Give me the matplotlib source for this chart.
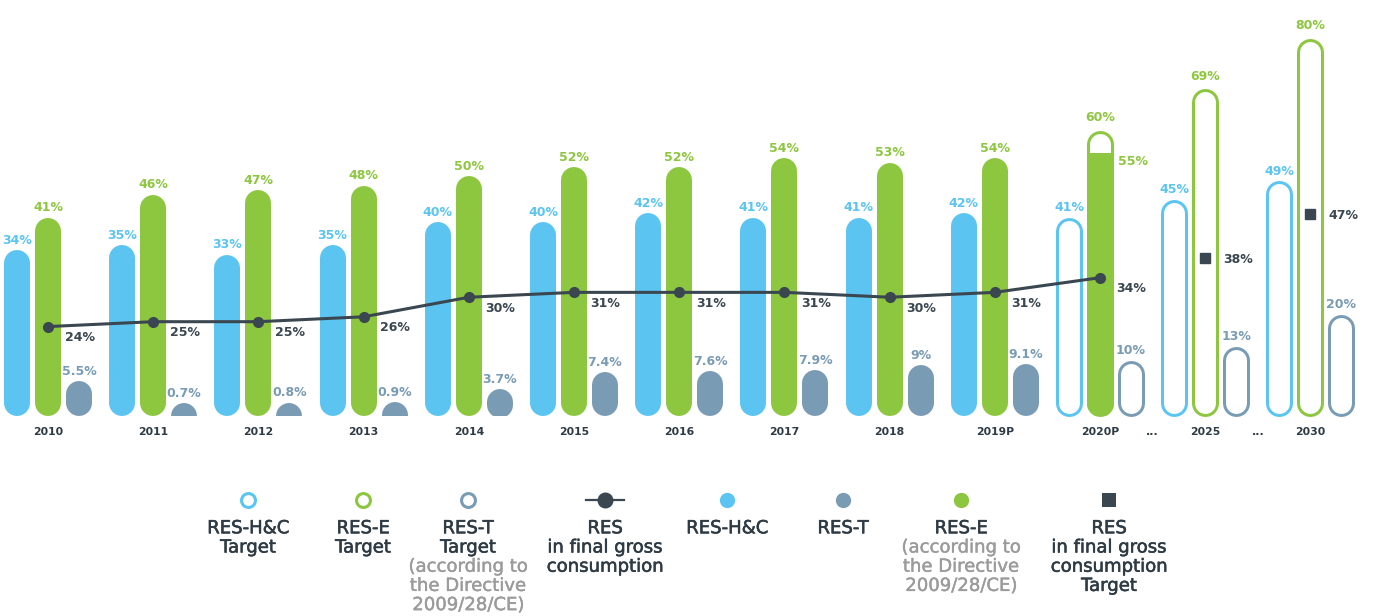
"""
plot.py - RES shares by sector 2010-2030 (bars as rounded pills + RES line)
"""

import matplotlib.pyplot as plt
import matplotlib.patheffects as pe
from matplotlib.patches import Rectangle
from matplotlib.lines import Line2D

# --- data -----------------------------------------------------------------
years = ["2010", "2011", "2012", "2013", "2014", "2015", "2016", "2017",
         "2018", "2019P", "2020P", "2025", "2030"]

# actual values 2010 -> 2019P
res_hc = [34, 35, 33, 35, 40, 40, 42, 41, 41, 42]
res_t = [5.5, 0.7, 0.8, 0.9, 3.7, 7.4, 7.6, 7.9, 9, 9.1]
# RES-E actual 2010 -> 2020P
res_e = [41, 46, 47, 48, 50, 52, 52, 54, 53, 54, 55]
# RES in final gross consumption 2010 -> 2020P
res_total = [24, 25, 25, 26, 30, 31, 31, 31, 30, 31, 34]

# targets 2020P, 2025, 2030
hc_target = [41, 45, 49]
e_target = [60, 69, 80]
t_target = [10, 13, 20]
# RES target 2025, 2030
res_target = [38, 47]

# --- colours / layout -----------------------------------------------------
BLUE = "#5BC4F1"
GREEN = "#8DC63F"
GREY = "#7A9BB4"
DARK = "#3A4750"
TEXT = "#2E3B45"
SOFT = "#9B9B9B"

W, H = 1379, 616
PX_X = 105.2          # pixels per group
X0 = 48               # pixel of first group centre
PX_Y = 4.6            # pixels per % (bars)
BASE = -2.1           # bar baseline value
BASE_PX = 416         # baseline pixel from top
OFF = 31 / PX_X       # side bar offset in group units
BAR_W = 26            # px
TGT_W = 27            # px
EDGE = 3              # px outline

fig = plt.figure(figsize=(W / 100, H / 100), dpi=100)
ax = fig.add_axes([0, 0, 1, 1])
ax.set_xlim(-X0 / PX_X, (W - X0) / PX_X)
ax.set_ylim(BASE - (H - BASE_PX) / PX_Y, BASE + BASE_PX / PX_Y)
ax.axis("off")

# line series on its own scale
ax2 = ax.twinx()
ax2.set_ylim(-35.2, 90.8)
ax2.axis("off")


def pill(x, top, color, width=BAR_W, clip_top=None, zorder=2):
    r = width / 2 / PX_Y
    y1 = top - r
    y0 = min(BASE + r, y1 - 0.5)
    ln, = ax.plot([x, x], [y0, y1], color=color, lw=width * 0.72,
                  solid_capstyle="round", zorder=zorder)
    hi = clip_top if clip_top is not None else 200
    clip = Rectangle((x - 1, BASE), 2, hi - BASE, transform=ax.transData)
    ln.set_clip_path(clip)


def outline_pill(x, top, color):
    r = TGT_W / 2 / PX_Y
    y1 = top - r
    y0 = BASE + r
    ax.plot([x, x], [y0, y1], color=color, lw=TGT_W * 0.72,
            solid_capstyle="round", zorder=2)
    ax.plot([x, x], [y0, y1], color="white", lw=(TGT_W - 2 * EDGE) * 0.72,
            solid_capstyle="round", zorder=3)


def bar_label(x, top, val, color, dy=4.5):
    ax.annotate(f"{val:g}%", (x, top), xytext=(0, dy), textcoords="offset points",
                ha="center", va="baseline", color=color, fontsize=9,
                fontweight="bold", zorder=8)


# actual bars
for i, (hc, t) in enumerate(zip(res_hc, res_t)):
    pill(i - OFF, hc, BLUE)
    bar_label(i - OFF, hc, hc, BLUE)
    pill(i + OFF, t, GREY)
    bar_label(i + OFF, t, t, GREY)

for i, e in enumerate(res_e[:10]):
    pill(i, e, GREEN)
    bar_label(i, e, e, GREEN)

# target bars
for k, (hc, e, t) in enumerate(zip(hc_target, e_target, t_target)):
    i = 10 + k
    outline_pill(i - OFF, hc, BLUE)
    bar_label(i - OFF, hc, hc, BLUE)
    outline_pill(i, e, GREEN)
    bar_label(i, e, e, GREEN, dy=6.5)
    outline_pill(i + OFF, t, GREY)
    bar_label(i + OFF, t, t, GREY)

# 2020P RES-E actual fill inside the target outline
pill(10, e_target[0], GREEN, width=TGT_W, clip_top=res_e[10], zorder=4)
ax.annotate(f"{res_e[10]}%", (10, res_e[10]), xytext=(13, -6),
            textcoords="offset points", ha="left", va="center", color=GREEN,
            fontsize=9, fontweight="bold")

# RES line
xs = list(range(len(res_total)))
ax2.plot(xs, res_total, color=DARK, lw=2.2, marker="o", ms=7, zorder=6)
for x, v in zip(xs, res_total):
    ax2.annotate(f"{v}%", (x, v), xytext=(12, -8), textcoords="offset points",
                 ha="left", va="center", color=DARK, fontsize=9, fontweight="bold")

# RES target squares
xt = [11, 12]
ax2.plot(xt, res_target, linestyle="none", marker="s", ms=7.5, color=DARK, zorder=6)
for x, v in zip(xt, res_target):
    ax2.annotate(f"{v}%", (x, v), xytext=(13, -1), textcoords="offset points",
                 ha="left", va="center", color=DARK, fontsize=9, fontweight="bold")

# year labels
ytr = ax.get_xaxis_transform()
yl = 1 - 432 / H
for i, yr in enumerate(years):
    ax.text(i, yl, yr, transform=ytr, ha="center", va="center", fontsize=7.8,
            fontweight="bold", color=TEXT)
for i in (10.5, 11.5):
    ax.text(i, yl, "...", transform=ytr, ha="center", va="center", fontsize=7.8,
            fontweight="bold", color=TEXT)

# --- legend ---------------------------------------------------------------
bold = [pe.withStroke(linewidth=0.4, foreground=TEXT)]
soft = [pe.withStroke(linewidth=0.3, foreground=SOFT)]
directive = ["(according to", "the Directive", "2009/28/CE)"]
legend_items = [
    (248, "hollow", BLUE, ["RES-H&C", "Target"], []),
    (363, "hollow", GREEN, ["RES-E", "Target"], []),
    (468, "hollow", GREY, ["RES-T", "Target"], directive),
    (605, "line", DARK, ["RES", "in final gross", "consumption"], []),
    (727, "dot", BLUE, ["RES-H&C"], []),
    (843, "dot", GREY, ["RES-T"], []),
    (961, "dot", GREEN, ["RES-E"], directive),
    (1109, "square", DARK, ["RES", "in final gross", "consumption", "Target"], []),
]


def fx(px):
    return px / W


def fy(py):
    return 1 - py / H


MY = 500
for cx, kind, col, dark_lines, gray_lines in legend_items:
    if kind == "hollow":
        fig.add_artist(Line2D([fx(cx)], [fy(MY)], marker="o", ms=10, mfc="white",
                              mec=col, mew=2.2, transform=fig.transFigure))
    elif kind == "dot":
        fig.add_artist(Line2D([fx(cx)], [fy(MY)], marker="o", ms=11, mfc=col,
                              mec=col, mew=0, transform=fig.transFigure))
    elif kind == "square":
        fig.add_artist(Line2D([fx(cx)], [fy(MY)], marker="s", ms=10.4, mfc=col,
                              mec=col, mew=0, transform=fig.transFigure))
    else:
        fig.add_artist(Line2D([fx(cx - 19), fx(cx + 19)], [fy(MY), fy(MY)],
                              color=col, lw=1.6, transform=fig.transFigure))
        fig.add_artist(Line2D([fx(cx)], [fy(MY)], marker="o", ms=11.5, mfc=col,
                              mec=col, mew=0, transform=fig.transFigure))
    base = 533.3
    for k, line in enumerate(dark_lines + gray_lines):
        is_dark = k < len(dark_lines)
        fig.text(fx(cx), fy(base + 19.2 * k), line, ha="center", va="baseline",
                 fontsize=13, color=TEXT if is_dark else SOFT,
                 path_effects=bold if is_dark else soft)

fig.savefig("out.png", dpi=100, facecolor="white")
